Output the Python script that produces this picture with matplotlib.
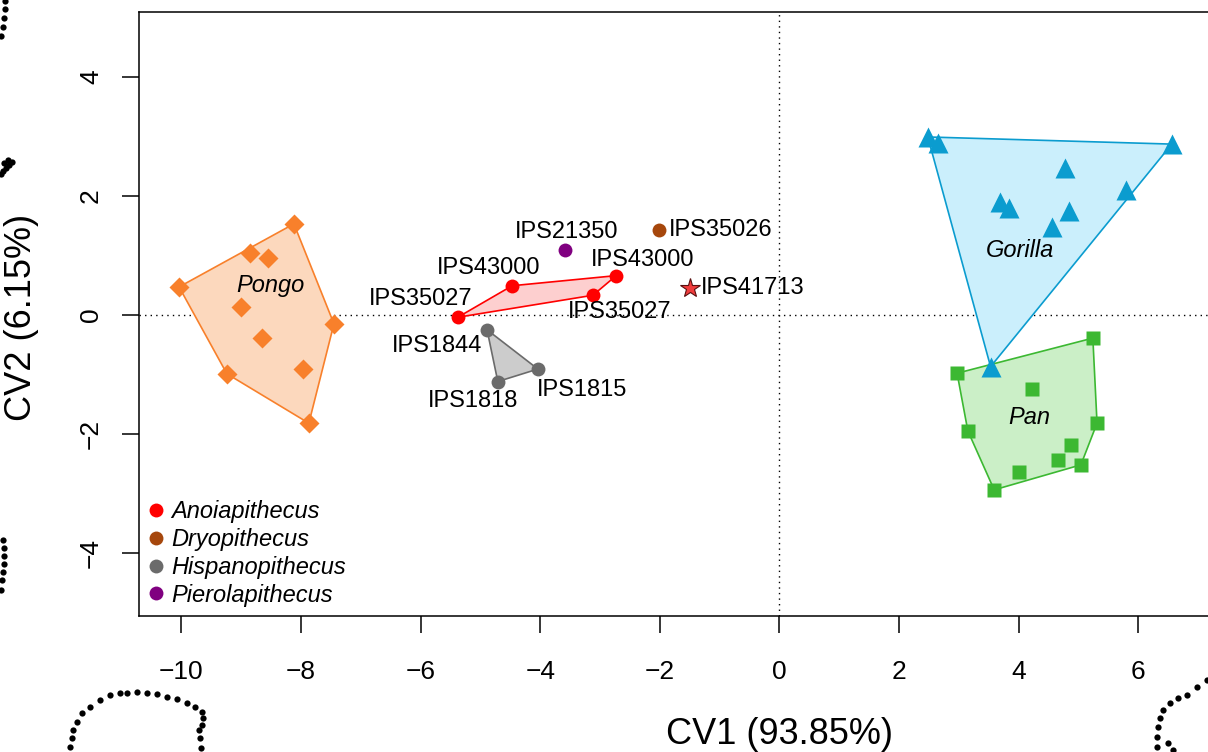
import matplotlib
matplotlib.use("Agg")
import matplotlib.pyplot as plt
from matplotlib.lines import Line2D

plt.rcParams['font.family'] = ['Liberation Sans', 'DejaVu Sans']

# --- data (CV1, CV2) ---
pongo_x = [-8.12, -8.85, -8.55, -10.04, -9.00, -7.45, -8.65, -7.97, -9.24, -7.87]
pongo_y = [1.53, 1.04, 0.96, 0.47, 0.13, -0.15, -0.39, -0.91, -0.99, -1.82]

gorilla_x = [2.48, 2.65, 6.56, 4.77, 5.80, 3.69, 3.84, 4.84, 4.56, 3.53]
gorilla_y = [2.99, 2.89, 2.87, 2.47, 2.10, 1.90, 1.80, 1.75, 1.48, -0.87]

pan_x = [5.24, 2.97, 4.22, 3.15, 5.31, 4.87, 4.66, 5.04, 4.00, 3.59]
pan_y = [-0.39, -0.98, -1.24, -1.95, -1.82, -2.18, -2.44, -2.52, -2.64, -2.94]

anoia_x = [-5.38, -4.47, -3.12, -2.73]
anoia_y = [-0.04, 0.49, 0.33, 0.66]
anoia_lab = ['IPS35027', 'IPS43000', 'IPS35027', 'IPS43000']

hispano_x = [-4.89, -4.04, -4.71]
hispano_y = [-0.25, -0.91, -1.12]
hispano_lab = ['IPS1844', 'IPS1815', 'IPS1818']

dryo_x, dryo_y, dryo_lab = [-2.02], [1.43], ['IPS35026']
piero_x, piero_y, piero_lab = [-3.59], [1.09], ['IPS21350']
star_x, star_y, star_lab = [-1.50], [0.45], ['IPS41713']

legend_names = ['Anoiapithecus', 'Dryopithecus', 'Hispanopithecus', 'Pierolapithecus']
legend_cols = ['#ff0000', '#a6470c', '#6b6b6b', '#800080']

# label offsets in points (dx, dy) and alignment
anoia_off = [(-27, 13, 'center'), (-17, 13, 'center'), (19, -12, 'center'), (19, 11, 'center')]
hispano_off = [(-36, -12, 'center'), (32, -15, 'center'), (-18, -14, 'center')]

# outline fragments of neighbouring panels (figure pixels)
frag_bl = [(70, 756), (70, 747), (72, 738), (73, 730), (77, 722), (82, 713), (90, 707), (100, 700),
           (110, 695), (120, 693), (127, 693), (137, 692), (147, 693), (157, 694), (167, 697),
           (177, 699), (187, 703), (195, 707), (202, 712), (203, 718), (202, 725), (199, 730),
           (200, 738), (201, 748)]
frag_br = [(1207, 680), (1197, 687), (1187, 695), (1178, 698), (1170, 703), (1163, 710), (1160, 718),
           (1158, 727), (1157, 737), (1157, 747), (1168, 743), (1173, 750)]
frag_tl = [(5, 1), (5, 9), (4, 18), (3, 27), (1, 36)]
frag_lm = [(12, 162), (9, 165), (6, 168), (3, 171), (1, 174), (8, 160), (4, 163)]
frag_ll = [(3, 540), (4, 548), (4, 556), (4, 564), (3, 572), (2, 580), (1, 590)]


def hull(xs, ys):
    pts = sorted(set(zip(xs, ys)))
    if len(pts) < 3:
        return pts

    def cross(o, a, b):
        return (a[0] - o[0]) * (b[1] - o[1]) - (a[1] - o[1]) * (b[0] - o[0])
    lower, upper = [], []
    for p in pts:
        while len(lower) >= 2 and cross(lower[-2], lower[-1], p) <= 0:
            lower.pop()
        lower.append(p)
    for p in reversed(pts):
        while len(upper) >= 2 and cross(upper[-2], upper[-1], p) <= 0:
            upper.pop()
        upper.append(p)
    return lower[:-1] + upper[:-1]


W, H = 1208, 752
fig = plt.figure(figsize=(W / 100, H / 100), dpi=100)

# decoration layer
deco = fig.add_axes([0, 0, 1, 1], zorder=0)
deco.set_xlim(0, W)
deco.set_ylim(H, 0)
deco.axis('off')
for frag in (frag_bl, frag_br, frag_tl, frag_lm, frag_ll):
    deco.plot([p[0] for p in frag], [p[1] for p in frag], 'o', color='black', ms=4.5, mec='none')

ax = fig.add_axes([139 / W, 136 / H, 1089 / W, 604 / H], zorder=1)
ax.set_xlim(-10.71, 7.5)
ax.set_ylim(-5.06, 5.09)

ax.axhline(0, color='black', lw=1, ls=(0, (1, 3)), zorder=1)
ax.axvline(0, color='black', lw=1, ls=(0, (1, 3)), zorder=1)

groups = [
    (pongo_x, pongo_y, '#f8802b', '#fcd8bd', 'D', 10.5),
    (gorilla_x, gorilla_y, '#0b9ccf', '#cbeffc', '^', 14),
    (pan_x, pan_y, '#3cb832', '#cbefc7', 's', 10.5),
    (anoia_x, anoia_y, '#ff0000', '#fdcfcf', 'o', 10),
    (hispano_x, hispano_y, '#6b6b6b', '#cccccc', 'o', 10),
]
for xs, ys, c, fc, m, ms in groups:
    h = hull(xs, ys)
    ax.fill([p[0] for p in h], [p[1] for p in h], facecolor=fc, edgecolor=c, lw=1.2, zorder=2)
    ax.plot(xs, ys, m, color=c, ms=ms, mec='none', zorder=3)

ax.plot(dryo_x, dryo_y, 'o', color='#a6470c', ms=10, mec='none', zorder=3)
ax.plot(piero_x, piero_y, 'o', color='#800080', ms=10, mec='none', zorder=3)
ax.plot(star_x, star_y, '*', color='#f03c3c', ms=15, mec='#5a1010', mew=0.8, zorder=3)

fs = 17
for x, y, lab, (dx, dy, ha) in zip(anoia_x, anoia_y, anoia_lab, anoia_off):
    ax.annotate(lab, (x, y), xytext=(dx, dy), textcoords='offset points', ha=ha, va='center', fontsize=fs)
for x, y, lab, (dx, dy, ha) in zip(hispano_x, hispano_y, hispano_lab, hispano_off):
    ax.annotate(lab, (x, y), xytext=(dx, dy), textcoords='offset points', ha=ha, va='center', fontsize=fs)
ax.annotate(piero_lab[0], (piero_x[0], piero_y[0]), xytext=(1, 13), textcoords='offset points',
            ha='center', va='center', fontsize=fs)
ax.annotate(dryo_lab[0], (dryo_x[0], dryo_y[0]), xytext=(7, 0), textcoords='offset points',
            ha='left', va='center', fontsize=fs)
ax.annotate(star_lab[0], (star_x[0], star_y[0]), xytext=(8, 0), textcoords='offset points',
            ha='left', va='center', fontsize=fs)

ax.text(-8.52, 0.49, 'Pongo', style='italic', ha='center', va='center', fontsize=fs)
ax.text(4.02, 1.09, 'Gorilla', style='italic', ha='center', va='center', fontsize=fs)
ax.text(4.17, -1.73, 'Pan', style='italic', ha='center', va='center', fontsize=fs)

handles = [Line2D([], [], marker='o', ls='none', color=c, mec='none', ms=10) for c in legend_cols]
leg = ax.legend(handles, legend_names, loc='lower left', frameon=False,
                prop={'style': 'italic', 'size': fs}, handlelength=0.6, handletextpad=0.35,
                labelspacing=0.2, borderaxespad=0.0, bbox_to_anchor=(0.0, 0.0))

ax.set_xticks([-10, -8, -6, -4, -2, 0, 2, 4, 6])
ax.set_yticks([-4, -2, 0, 2, 4])
ax.set_xticklabels(['\u221210', '\u22128', '\u22126', '\u22124', '\u22122', '0', '2', '4', '6'])
ax.set_yticklabels(['\u22124', '\u22122', '0', '2', '4'])
ax.tick_params(length=12, width=1.1, labelsize=19)
ax.tick_params(axis='x', pad=20)
ax.tick_params(axis='y', pad=14)
plt.setp(ax.get_yticklabels(), rotation=90, va='center')
for s in ax.spines.values():
    s.set_linewidth(1.1)

# axis titles placed at their pixel centres
fig.text(779.5 / W, 1 - 735 / H, 'CV1 (93.85%)', fontsize=26, ha='center', va='center')
fig.text(22 / W, 1 - 317 / H, 'CV2 (6.15%)', fontsize=26, ha='center', va='center', rotation=90)

fig.savefig('out.png', dpi=100)
